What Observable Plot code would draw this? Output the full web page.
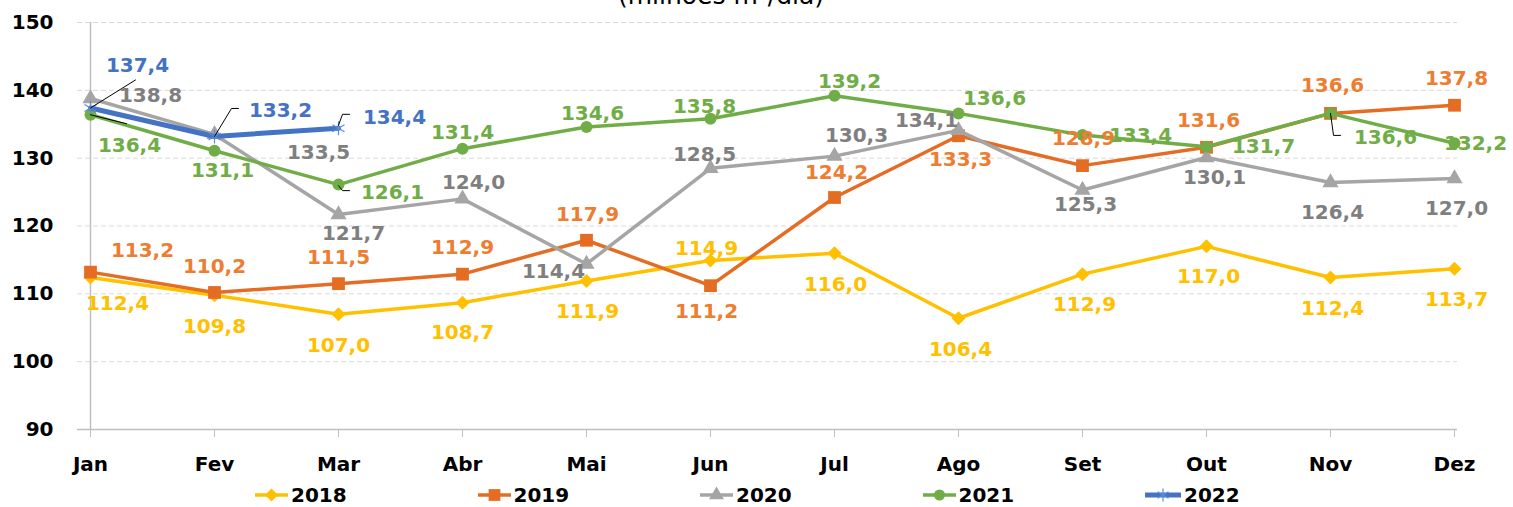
<!DOCTYPE html>
<html>
<head>
<meta charset="utf-8">
<script src="https://cdn.jsdelivr.net/npm/d3@7"></script>
<script src="https://cdn.jsdelivr.net/npm/@observablehq/plot@0.6"></script>
<style>
  html, body { margin: 0; padding: 0; background: #fff; }
  body { width: 1513px; height: 507px; overflow: hidden; position: relative; font-family: "DejaVu Sans", sans-serif; }
  #title { position: absolute; left: 0; width: 1442px; top: -17px; text-align: center; font-size: 25px; line-height: 25px; color: #000; white-space: nowrap; }
  #chart { position: absolute; left: 0; top: 0; }
  #legend { position: absolute; left: 0; top: 483px; width: 1513px; height: 24px; }
  .item { position: absolute; top: 0; height: 24px; display: flex; align-items: center; font-weight: bold; font-size: 20px; color: #000; }
  .item svg { margin-right: 3px; }
</style>
</head>
<body>
<div id="title">(milhões m³/dia)</div>
<div id="chart"></div>
<div id="legend"></div>
<script>
// ---- data ----
const months = ["Jan", "Fev", "Mar", "Abr", "Mai", "Jun", "Jul", "Ago", "Set", "Out", "Nov", "Dez"];
const years = ["2018", "2019", "2020", "2021", "2022"];
const v2018 = [112.4, 109.8, 107.0, 108.7, 111.9, 114.9, 116.0, 106.4, 112.9, 117.0, 112.4, 113.7];
const v2019 = [113.2, 110.2, 111.5, 112.9, 117.9, 111.2, 124.2, 133.3, 128.9, 131.6, 136.6, 137.8];
const v2020 = [138.8, 133.5, 121.7, 124.0, 114.4, 128.5, 130.3, 134.1, 125.3, 130.1, 126.4, 127.0];
const v2021 = [136.4, 131.1, 126.1, 131.4, 134.6, 135.8, 139.2, 136.6, 133.4, 131.7, 136.6, 132.2];
const v2022 = [137.4, 133.2, 134.4];
const yTicks = [90, 100, 110, 120, 130, 140, 150];
const title = "(milhões m³/dia)";

// ---- styling (not data) ----
const seriesValues = {"2018": v2018, "2019": v2019, "2020": v2020, "2021": v2021, "2022": v2022};
const style = {
  "2018": {line: "#FFC000", label: "#FFC000", width: 3.5, symbol: "diamond2", r: 6.3, fill: true},
  "2019": {line: "#E46C23", label: "#ED7D31", width: 3.5, symbol: "square", r: 7.2, fill: true},
  "2020": {line: "#A5A5A5", label: "#7F7F7F", width: 3.5, symbol: "triangle", r: 6, fill: true},
  "2021": {line: "#70AD47", label: "#70AD47", width: 3.5, symbol: "circle", r: 6, fill: true},
  "2022": {line: "#4472C4", label: "#4472C4", width: 5, symbol: "asterisk", r: 6.6, fill: false}
};
// label offsets [dx, dy] in pixels from each point
const labelOffsets = {
  "2018": [[27,26],[0,31],[0,31],[0,30],[1,31],[-4,-12],[1,31],[2,31],[2,30],[2,30],[2,31],[2,31]],
  "2019": [[52,-22],[0,-26],[0,-26],[0,-27],[1,-26],[-4,26],[2,-25],[2,24],[1,-27],[2,-27],[2,-28],[2,-27]],
  "2020": [[60,-3],[104,18],[15,19],[11,-16],[-33,8],[-6,-14],[22,-21],[-32,-10],[3,15],[8,20],[2,30],[2,30]],
  "2021": [[39,31],[8,20],[54,8],[0,-16],[6,-13],[-6,-12],[15,-14],[36,-15],[58,0],[57,0],[55,24],[21,0]],
  "2022": [[47,-42],[66,-26],[56,-11]]
};
// leader lines: [year, monthIndex, polyline in pixels relative to point]
const leaders = [
  ["2022", 0, [[0,0],[45,-28]]],
  ["2021", 0, [[0,0],[36,9]]],
  ["2022", 1, [[0,0],[17,-28],[24,-28]]],
  ["2022", 2, [[0,-3],[4,-14],[11,-14]]],
  ["2021", 2, [[0,1],[4,6],[11,6]]],
  ["2021", 10, [[0,0],[3,22],[10,22]]]
];

const rowsOf = (y) => seriesValues[y].map((v, i) => ({year: y, month: months[i], value: v, i}));
const fmt = (v) => v.toFixed(1).replace(".", ",");

const marks = [
  Plot.ruleY(yTicks.filter(t => t > 90), {stroke: "#D9D9D9", strokeWidth: 1, strokeDasharray: "5,3", insetLeft: -10}),
  Plot.ruleY([90], {stroke: "#BFBFBF", strokeWidth: 1.5, insetLeft: -10}),
  Plot.ruleX([months[0]], {stroke: "#BFBFBF", strokeWidth: 1.5}),
  Plot.axisY(yTicks, {label: null, tickSize: 0, tickPadding: 34, fontSize: 20, fontWeight: "bold", fill: "#000"}),
  Plot.axisX(months, {label: null, tickSize: 8, tickPadding: 19, stroke: "#BFBFBF", fontSize: 20, fontWeight: "bold", fill: "#000"})
];

for (const y of years) {
  const s = style[y];
  const rows = rowsOf(y);
  marks.push(Plot.line(rows, {x: "month", y: "value", stroke: s.line, strokeWidth: s.width, strokeLinejoin: "round"}));
  marks.push(Plot.dot(rows, s.fill
    ? {x: "month", y: "value", symbol: s.symbol, r: s.r, fill: s.line, stroke: "none"}
    : {x: "month", y: "value", symbol: s.symbol, r: s.r, fill: "none", stroke: "#5B8BD9", strokeWidth: 1.2}));
}

for (const [y, i, pts] of leaders) {
  const row = rowsOf(y)[i];
  marks.push(Plot.vector([row], {
    x: "month", y: "value", anchor: "start", length: 1, rotate: 0,
    stroke: "#000", strokeWidth: 1,
    shape: {draw(ctx) { ctx.moveTo(pts[0][0], pts[0][1]); for (const p of pts.slice(1)) ctx.lineTo(p[0], p[1]); }}
  }));
}

for (const y of years) {
  const s = style[y];
  const rows = rowsOf(y).map(d => ({...d, dx: labelOffsets[y][d.i][0], dy: labelOffsets[y][d.i][1]}));
  for (const d of rows) {
    marks.push(Plot.text([d], {x: "month", y: "value", text: r => fmt(r.value), dx: d.dx, dy: d.dy,
      fill: s.label, fontSize: 20, fontWeight: "bold", fontFamily: "DejaVu Sans"}));
  }
}

const chart = Plot.plot({
  width: 1513, height: 480,
  marginLeft: 87, marginRight: 56, marginTop: 22, marginBottom: 51,
  x: {type: "point", domain: months, padding: 0, label: null},
  y: {domain: [90, 150], label: null},
  style: {fontFamily: "DejaVu Sans", fontSize: "20px", background: "transparent", overflow: "visible"},
  marks
});
document.getElementById("chart").appendChild(chart);

// ---- legend ----
const symbolTypes = {diamond2: d3.symbolDiamond2, square: d3.symbolSquare, triangle: d3.symbolTriangle, circle: d3.symbolCircle, asterisk: d3.symbolAsterisk};
const legend = d3.select("#legend");
years.forEach((y, k) => {
  const s = style[y];
  const item = legend.append("div").attr("class", "item").style("left", (255 + k * 222.5) + "px");
  const w = y === "2022" ? 36 : 33;
  const svg = item.append("svg").attr("width", w).attr("height", 24);
  svg.append("line").attr("x1", 0).attr("x2", w).attr("y1", 12).attr("y2", 12)
    .attr("stroke", s.line).attr("stroke-width", s.width).attr("stroke-linecap", "round");
  const size = Math.PI * s.r * s.r * 0.85;
  svg.append("path").attr("transform", `translate(${w / 2},12)`)
    .attr("d", d3.symbol(symbolTypes[s.symbol], size)())
    .attr("fill", s.fill ? s.line : "none")
    .attr("stroke", s.fill ? "none" : "#5B8BD9").attr("stroke-width", 1.2);
  item.append("span").text(y);
});
</script>
</body>
</html>
